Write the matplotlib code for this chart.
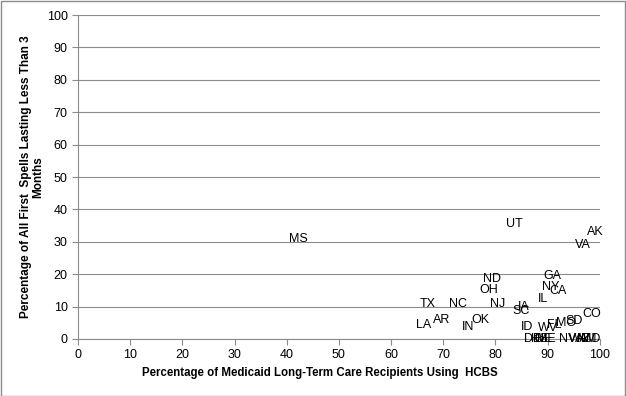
import matplotlib.pyplot as plt

plt.rcParams['font.family'] = ['Liberation Sans', 'DejaVu Sans']

# estados y valores
states = ['MS', 'UT', 'AK', 'VA', 'GA', 'ND', 'NY', 'CA', 'OH', 'IL',
          'TX', 'NC', 'NJ', 'IA', 'SC', 'CO', 'SD', 'MO', 'FL', 'WV',
          'AR', 'OK', 'LA', 'IN', 'ID',
          'DE', 'KS', 'NE', 'ME', 'NV', 'WA', 'AZ', 'NM', 'MD']
hcbs = [42.3, 83.7, 99.2, 96.7, 91.0, 79.3, 90.6, 92.0, 78.7, 89.1,
        67.0, 72.8, 80.5, 85.4, 84.9, 98.4, 95.1, 93.6, 91.3, 90.0,
        69.7, 77.2, 66.3, 74.7, 86.0,
        87.2, 88.4, 89.2, 89.8, 93.9, 96.0, 96.8, 97.5, 98.2]
short = [30.9, 35.5, 33.0, 29.0, 19.4, 18.5, 16.0, 14.8, 15.1, 12.3,
         10.8, 10.8, 10.8, 9.9, 8.6, 7.6, 5.4, 4.8, 4.4, 3.4,
         5.9, 5.9, 4.3, 3.7, 3.7,
         0.0, 0.0, 0.0, 0.0, 0.0, 0.0, 0.0, 0.0, 0.0]

fig = plt.figure(figsize=(6.26, 3.96), dpi=100)
ax = fig.add_axes([0.1246, 0.144, 0.8334, 0.818])

for s, x, y in zip(states, hcbs, short):
    ax.text(x, y, s, ha='center', va='center', fontsize=9, color='black')

ax.set_xlim(0, 100)
ax.set_ylim(0, 100)
ax.set_xticks(range(0, 101, 10))
ax.set_yticks(range(0, 101, 10))
ax.grid(True, axis='y', color='#8c8c8c', linewidth=0.8)
ax.set_axisbelow(True)
for side in ['top', 'right']:
    ax.spines[side].set_visible(False)
for side in ['left', 'bottom']:
    ax.spines[side].set_color('#8c8c8c')
ax.tick_params(colors='#8c8c8c', labelcolor='black', labelsize=9, length=4)

ax.set_xlabel('Percentage of Medicaid Long-Term Care Recipients Using  HCBS',
              fontsize=8.3, fontweight='bold', labelpad=4)
ax.xaxis.label.set_x(0.464)
ax.set_ylabel('Percentage of All First  Spells Lasting Less Than 3\nMonths',
              fontsize=8.5, fontweight='bold', labelpad=1.5, linespacing=1.0)

# marco exterior
fig.patches.append(plt.Rectangle((0.001, 0.001), 0.997, 0.997, transform=fig.transFigure,
                                 fill=False, edgecolor='#8c8c8c', linewidth=1))

plt.savefig('out.png', dpi=100)
